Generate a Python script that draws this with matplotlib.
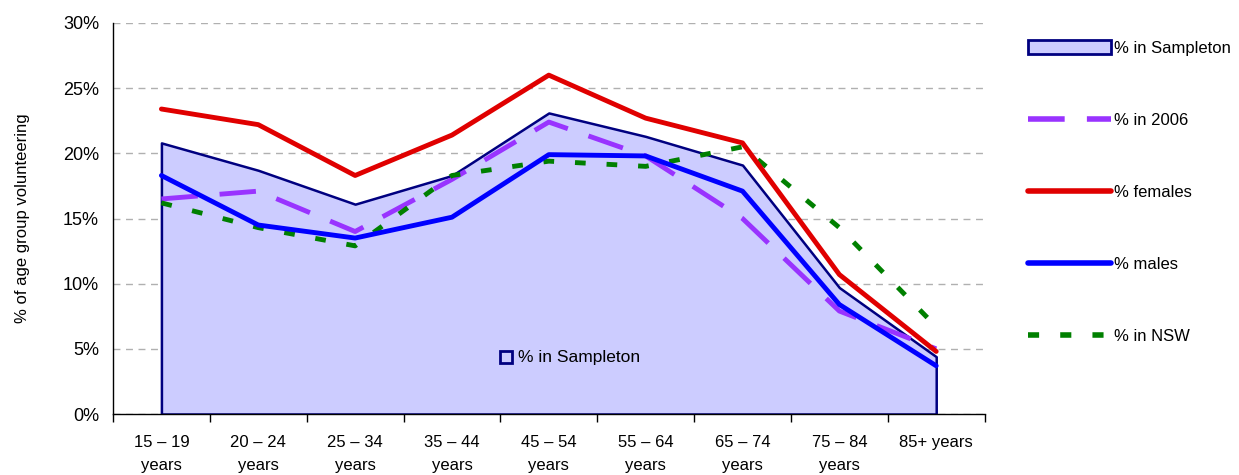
import numpy as np
import matplotlib.pyplot as plt
from matplotlib.patches import Patch
from matplotlib.lines import Line2D
from matplotlib.ticker import FuncFormatter, FixedLocator

plt.rcParams['font.family'] = ['Liberation Sans', 'DejaVu Sans']

# age groups
age_groups = ['15 – 19\nyears', '20 – 24\nyears', '25 – 34\nyears', '35 – 44\nyears',
              '45 – 54\nyears', '55 – 64\nyears', '65 – 74\nyears', '75 – 84\nyears',
              '85+ years']

# % of each age group volunteering
sampleton = [20.8, 18.7, 16.1, 18.3, 23.1, 21.3, 19.1, 9.7, 4.4]
in_2006 = [16.5, 17.1, 14.0, 18.0, 22.4, 19.8, 15.0, 7.9, 5.0]
females = [23.4, 22.2, 18.3, 21.4, 26.0, 22.7, 20.8, 10.7, 4.8]
males = [18.3, 14.5, 13.5, 15.1, 19.9, 19.8, 17.1, 8.4, 3.7]
nsw = [16.2, 14.3, 12.9, 18.3, 19.4, 19.0, 20.5, 14.3, 6.7]

x = np.arange(len(age_groups))

fig = plt.figure(figsize=(12.39, 4.75), dpi=100)
ax = fig.add_axes([0.0912, 0.1284, 0.7035, 0.8232])

# filled area for Sampleton
ax.fill_between(x, sampleton, 0, facecolor='#CCCCFF', edgecolor='#000080', linewidth=1.8, zorder=2)

ax.plot(x, in_2006, color='#9933FF', linewidth=3.5, dashes=(7.5, 4.5), zorder=3)
ax.plot(x, females, color='#E00000', linewidth=3.5, solid_capstyle='round', zorder=4)
ax.plot(x, males, color='#0000FF', linewidth=3.5, solid_capstyle='round', zorder=4)
ax.plot(x, nsw, color='#008000', linewidth=3.5, dashes=(2.2, 4.3), zorder=3)

# in-plot data label
ax.plot([3.56], [4.37], marker='s', ms=9, mfc='none', mec='#000080', mew=2, zorder=5)
ax.text(3.68, 4.37, '% in Sampleton', fontsize=12.5, va='center', ha='left', zorder=5)

ax.set_xlim(-0.5, len(age_groups) - 0.5)
ax.set_ylim(0, 30)
ax.set_yticks(np.arange(0, 31, 5))
ax.yaxis.set_major_formatter(FuncFormatter(lambda v, p: '%d%%' % v))
ax.grid(True, axis='y', linestyle=(0, (5, 4)), color='#B0B0B0', linewidth=1)
ax.set_axisbelow(True)

ax.set_xticks(x)
ax.set_xticklabels(age_groups, fontsize=12, linespacing=1.7)
ax.xaxis.set_minor_locator(FixedLocator(np.arange(-0.5, len(age_groups), 1)))
ax.tick_params(axis='x', which='major', length=0, pad=15)
ax.tick_params(axis='x', which='minor', length=6, width=1, direction='out')
ax.tick_params(axis='y', length=0, labelsize=13, pad=10)

ax.spines['top'].set_visible(False)
ax.spines['right'].set_visible(False)
ax.spines['left'].set_linewidth(1)
ax.spines['bottom'].set_linewidth(1)

ax.set_ylabel('% of age group volunteering', fontsize=12, labelpad=24)

handles = [
    Patch(facecolor='#CCCCFF', edgecolor='#000080', linewidth=2),
    Line2D([], [], color='#9933FF', linewidth=4, dashes=(6.6, 4)),
    Line2D([], [], color='#E00000', linewidth=4, solid_capstyle='round'),
    Line2D([], [], color='#0000FF', linewidth=4, solid_capstyle='round'),
    Line2D([], [], color='#008000', linewidth=4, dashes=(2, 3.8)),
]
labels = ['% in Sampleton', '% in 2006', '% females', '% males', '% in NSW']
fig.legend(handles, labels, loc='upper left', bbox_to_anchor=(0.824, 0.929),
           frameon=False, fontsize=12, handlelength=5.0, handletextpad=0.2,
           labelspacing=3.38, handleheight=0.9, borderaxespad=0)

plt.savefig('out.png', dpi=100)
